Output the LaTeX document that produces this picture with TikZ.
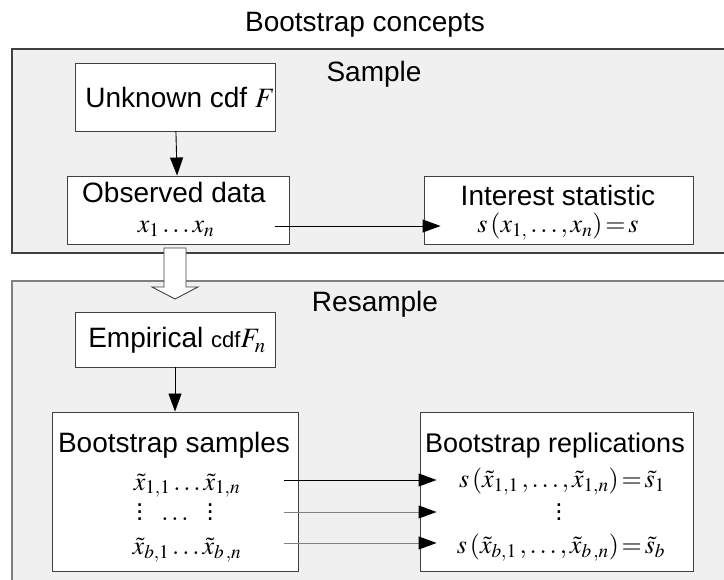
\documentclass[tikz,border=0pt]{standalone}
\usepackage{mathptmx}
\usepackage[no-math]{fontspec}
\setmainfont{Liberation Sans}
\usetikzlibrary{arrows.meta,positioning}
\definecolor{bspanel}{HTML}{F0F0F0}
\definecolor{bsedge}{HTML}{404040}
\definecolor{bsgray}{HTML}{808080}
% tall vertical dots for large type
\newcommand{\bsvdots}{\vbox{\baselineskip=7pt\lineskiplimit=0pt\kern4pt
  \hbox{.}\hbox{.}\hbox{.}}}

\begin{document}
\begin{tikzpicture}[x=1pt,y=-1pt,
  bsbox/.style={draw=bsedge,fill=white,line width=0.9pt,inner sep=0pt},
  bstext/.style={font=\fontsize{28}{32}\selectfont,inner sep=0pt,anchor=base},
  bsmath/.style={font=\fontsize{26}{30}\selectfont,inner sep=0pt,anchor=base},
  bsarr/.style={line width=0.9pt,-{Triangle[length=18pt,width=13pt,color=black]}},
  bsside/.style={bsarr,shorten <=-14pt,shorten >=-17pt}
]
  \clip (0,0) rectangle (724,580);
  % Panels
  \draw[fill=bspanel,draw=bsedge,line width=1.2pt] (12,49) rectangle (740,253);
  \draw[fill=bspanel,draw=bsgray,line width=1.4pt] (12,281) rectangle (740,600);
  \node[bstext] (title) at (365,32) {Bootstrap concepts};
  \node[bstext] (samplelbl) at (374,82) {Sample};
  \node[bstext] (resamplelbl) at (375,312) {Resample};

  % Sample part
  \node[bsbox,minimum width=200pt,minimum height=68pt] (cdf) at (175,97) {};
  \node[bstext] (cdftxt) at (180,108) {Unknown cdf $F$};
  \node[bsbox,minimum width=222pt,minimum height=68pt] (obs) at (178,210) {};
  \node[bstext] (obstxt) at (174,203) {Observed data};
  \node[bsmath] (obsx) at (176,233) {$x_{1}\dots x_{n}$};
  \node[bsbox,minimum width=269pt,minimum height=68pt] (stat) at (558.5,210) {};
  \node[bstext] (stattxt) at (558,206) {Interest statistic};
  \node[bsmath] (statx) at (558,233) {$s\,(x_{1,}\dots,x_{n})\!=\!s$};
  \draw[bsarr] (cdf) -- (obs);
  \draw[bsside] (obs.east |- 0,226) -- (stat.west |- 0,226);

  % Hollow arrow between panels
  \draw[fill=white,draw=bsedge,line width=0.9pt] (164,248) -- (164,287) -- (152,287)
    -- (175,299) -- (198,287) -- (186,287) -- (186,248) -- cycle;

  % Resample part
  \node[bsbox,minimum width=200pt,minimum height=55pt] (emp) at (175,339.5) {};
  \node[bstext] (emptxt) at (177,348)
    {Empirical {\fontsize{22}{24}\selectfont cdf}$F_{n}$};
  \node[bsbox,minimum width=246pt,minimum height=159pt] (bsamp) at (175,491.5) {};
  \node[bstext] (bsamptxt) at (174,453) {Bootstrap samples};
  \node[bsmath] (s1) at (187,490) {$\tilde{x}_{1,1}\dots\tilde{x}_{1,n}$};
  \node[bsmath] (s2) at (175,521) {\bsvdots\hspace{18pt}$\dots$\hspace{18pt}\bsvdots};
  \node[bsmath] (s3) at (187,554) {$\tilde{x}_{b,1}\dots\tilde{x}_{b\,,n}$};
  \node[bsbox,minimum width=273pt,minimum height=159pt] (brep) at (556.5,491.5) {};
  \node[font=\fontsize{27}{30}\selectfont,inner sep=0pt,anchor=base] (breptxt) at (555,453)
    {Bootstrap replications};
  \node[bsmath] (r1) at (562,488) {$s\,(\tilde{x}_{1,1}\,,\dots,\tilde{x}_{1,n})\!=\!\tilde{s}_{1}$};
  \node[bsmath] (r2) at (559,521) {\bsvdots};
  \node[bsmath] (r3) at (561,553) {$s\,(\tilde{x}_{b,1}\,,\dots,\tilde{x}_{b\,,n})\!=\!\tilde{s}_{b}$};
  \draw[bsarr] (emp) -- (bsamp);
  \draw[bsside] (bsamp.east |- 0,480) -- (brep.west |- 0,480);
  \draw[bsside,draw=bsgray] (bsamp.east |- 0,512) -- (brep.west |- 0,512);
  \draw[bsside,draw=bsgray] (bsamp.east |- 0,543) -- (brep.west |- 0,543);
\end{tikzpicture}
\end{document}
